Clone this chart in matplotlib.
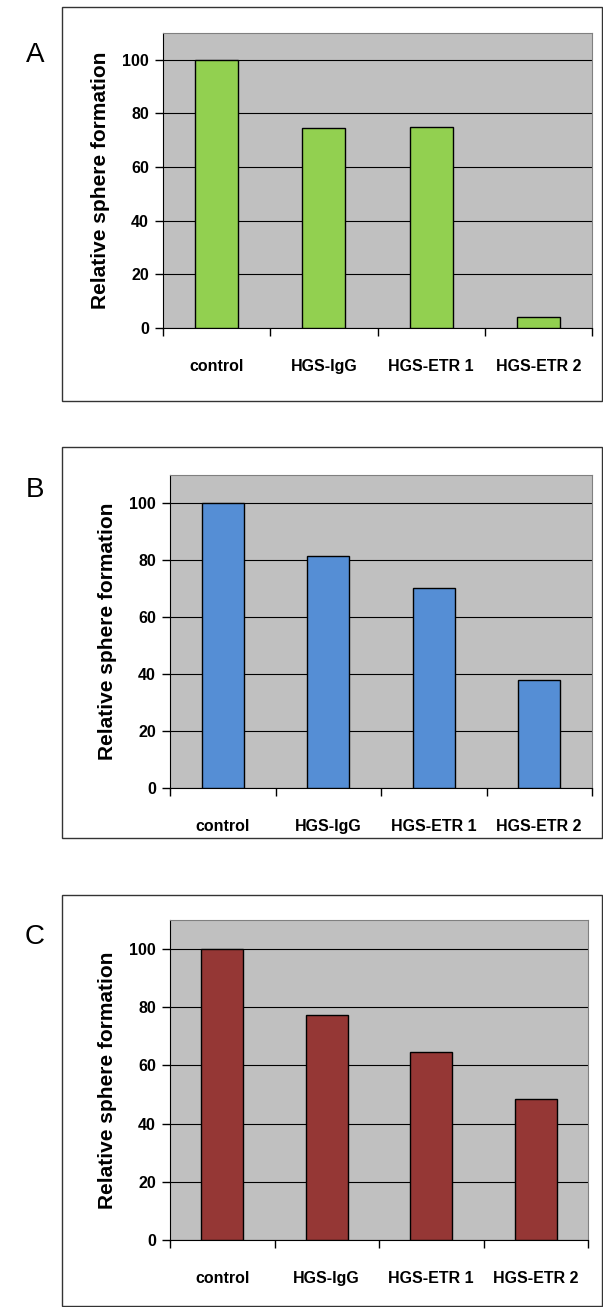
import matplotlib
matplotlib.use("Agg")
import matplotlib.pyplot as plt
from matplotlib.patches import Rectangle

plt.rcParams['font.family'] = ['Liberation Sans', 'DejaVu Sans']

categories = ["control", "HGS-IgG", "HGS-ETR 1", "HGS-ETR 2"]
values_a = [100, 74.5, 75.0, 4.1]
values_b = [100, 81.5, 70.3, 38.0]
values_c = [100, 77.5, 64.5, 48.3]
panel_labels = ["A", "B", "C"]
colors = ["#92D050", "#558ED5", "#953735"]

W, H = 603, 1307
fig = plt.figure(figsize=(W / 100, H / 100), dpi=100)

# pixel layouts: (box left, top, right, bottom), (axes left, top, right, bottom), label y
layouts = [
    ((62, 7, 602, 401), (163, 33, 592, 328), 55),
    ((62, 447, 602, 838), (170, 475, 592, 788), 490),
    ((62, 895, 602, 1306), (170, 920, 588, 1240), 937),
]

def fx(x):
    return x / W

def fy(y):
    return 1 - y / H

for vals, lab, col, (box, ax_px, ly) in zip([values_a, values_b, values_c],
                                           panel_labels, colors, layouts):
    bl, bt, br, bb = box
    fig.patches.append(Rectangle((fx(bl), fy(bb)), fx(br - bl), (bb - bt) / H,
                                 transform=fig.transFigure, fill=False,
                                 edgecolor="#333333", linewidth=1.0))
    fig.text(fx(35), fy(ly), lab, fontsize=20, ha="center", va="center")

    l, t, r, b = ax_px
    ax = fig.add_axes([fx(l), fy(b), fx(r - l), (b - t) / H])
    ax.set_facecolor("#C0C0C0")
    x = range(len(categories))
    ax.bar(x, vals, width=0.4, color=col, edgecolor="black", linewidth=1.0,
           zorder=3)
    ax.set_xlim(-0.5, len(categories) - 0.5)
    ax.set_ylim(0, 110)
    ax.set_yticks(range(0, 101, 20))
    ax.yaxis.grid(True, color="black", linewidth=0.8, zorder=1)
    ax.set_axisbelow(True)
    ax.set_xticks(list(x))
    ax.set_xticklabels(categories, fontweight="bold", fontsize=11.5)
    ax.set_xticks([i - 0.5 for i in range(len(categories) + 1)], minor=True)
    ax.tick_params(axis="x", which="major", length=0, pad=22)
    ax.tick_params(axis="x", which="minor", length=6, width=1, color="black")
    ax.tick_params(axis="y", length=6, width=1, pad=4, labelsize=11.5)
    for t_ in ax.get_yticklabels():
        t_.set_fontweight("bold")
    for s in ["top", "right"]:
        ax.spines[s].set_color("#808080")
    ax.spines["left"].set_color("black")
    ax.spines["bottom"].set_color("black")
    ax.set_ylabel("Relative sphere formation", fontsize=15, fontweight="bold",
                  labelpad=9)

fig.savefig("out.png", dpi=100)
